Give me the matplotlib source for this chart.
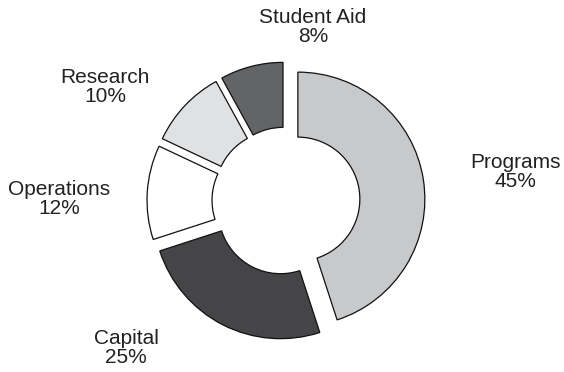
import matplotlib.pyplot as plt

labels = ["Programs", "Capital", "Operations", "Research", "Student Aid"]
shares = [45, 25, 12, 10, 8]
colors = ["#c8c9cb", "#454547", "#ffffff", "#e0e1e3", "#636466"]

# label anchor points (pixel space, y up)
label_pos = [(515, 200), (126, 24), (59, 173), (105, 285), (313, 345)]

fig = plt.figure(figsize=(5.64, 3.72), dpi=100)
ax = fig.add_axes([0, 0, 1, 1])

ax.pie(shares, colors=colors, startangle=90, counterclock=False,
       center=(286, 171), radius=127, explode=[12] * len(shares),
       wedgeprops=dict(width=65, edgecolor="#111111", linewidth=0.9))

for name, val, (x, y) in zip(labels, shares, label_pos):
    ax.text(x, y, f"{name}\n{val}%", ha="center", va="center",
            fontsize=15, family="Liberation Sans", color="#222222",
            linespacing=1.05)

ax.set_xlim(0, 564)
ax.set_ylim(0, 372)
ax.set_aspect("equal")
ax.axis("off")

fig.savefig("out.png", dpi=100)
